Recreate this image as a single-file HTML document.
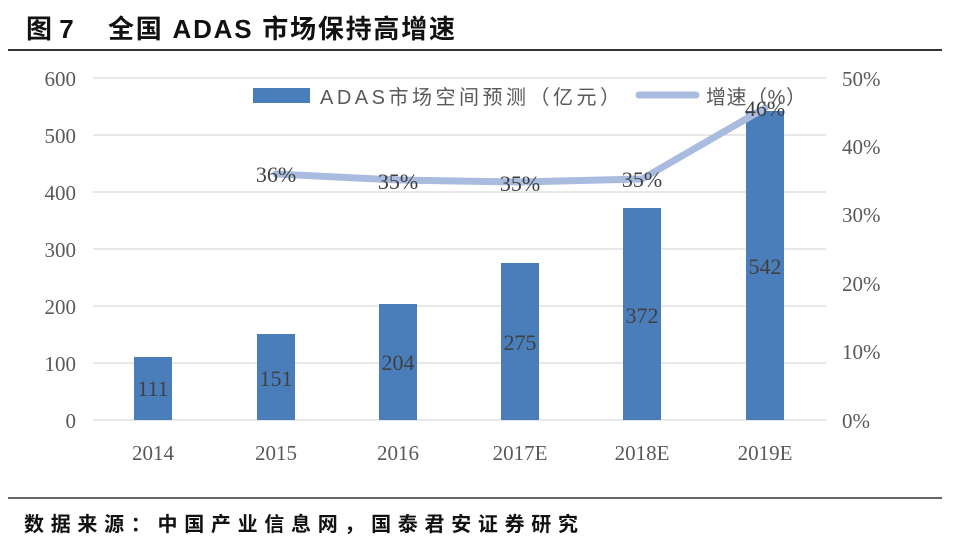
<!DOCTYPE html>
<html><head><meta charset="utf-8"><style>
html,body{margin:0;padding:0;background:#fff;}
</style></head><body>
<svg width="960" height="542" xmlns="http://www.w3.org/2000/svg" style="display:block">
<text x="26" y="38" font-family="'Liberation Sans','Noto Sans CJK SC',sans-serif" font-weight="bold" font-size="26" fill="#111">图 7</text>
<text x="108" y="38" font-family="'Liberation Sans','Noto Sans CJK SC',sans-serif" font-weight="bold" font-size="26" fill="#111" textLength="347" lengthAdjust="spacing">全国 ADAS 市场保持高增速</text>
<line x1="8" y1="50" x2="942" y2="50" stroke="#333" stroke-width="2"/>
<g stroke="#d9d9d9" stroke-width="1.2">
<line x1="93" y1="78" x2="826" y2="78"/><line x1="93" y1="135" x2="826" y2="135"/>
<line x1="93" y1="192" x2="826" y2="192"/><line x1="93" y1="249" x2="826" y2="249"/>
<line x1="93" y1="306" x2="826" y2="306"/><line x1="93" y1="363" x2="826" y2="363"/>
<line x1="93" y1="420" x2="826" y2="420"/></g>
<g font-family="'Liberation Serif',serif" font-size="21" fill="#595959" text-anchor="end">
<text x="76" y="86">600</text><text x="76" y="143">500</text><text x="76" y="200">400</text>
<text x="76" y="257">300</text><text x="76" y="314">200</text><text x="76" y="371">100</text><text x="76" y="428">0</text></g>
<g font-family="'Liberation Serif',serif" font-size="21" fill="#595959">
<text x="842" y="86">50%</text><text x="842" y="154">40%</text><text x="842" y="222">30%</text>
<text x="842" y="291">20%</text><text x="842" y="359">10%</text><text x="842" y="428">0%</text></g>
<g fill="#4a7ebb">
<rect x="134" y="357" width="38" height="63"/><rect x="257" y="334" width="38" height="86"/>
<rect x="379" y="304" width="38" height="116"/><rect x="501" y="263" width="38" height="157"/>
<rect x="623" y="208" width="38" height="212"/><rect x="746" y="111" width="38" height="309"/></g>
<g font-family="'Liberation Serif',serif" font-size="22" fill="#404040" text-anchor="middle">
<text x="153" y="396">111</text><text x="276" y="386">151</text><text x="398" y="370">204</text>
<text x="520" y="350">275</text><text x="642" y="323">372</text><text x="765" y="274">542</text></g>
<polyline points="276,174 398,180 520,182 642,179 765,108" fill="none" stroke="#a9bbdf" stroke-width="7" stroke-linejoin="round" stroke-linecap="round"/>
<g font-family="'Liberation Serif',serif" font-size="22" fill="#404040" text-anchor="middle">
<text x="276" y="182">36%</text><text x="398" y="189">35%</text><text x="520" y="191">35%</text>
<text x="642" y="187">35%</text><text x="765" y="116">46%</text></g>
<rect x="253" y="88" width="57" height="15" fill="#4a7ebb"/>
<text x="320" y="104" font-family="'Liberation Sans','Noto Sans CJK SC',sans-serif" font-size="20" fill="#595959" textLength="300" lengthAdjust="spacing">ADAS市场空间预测（亿元）</text>
<line x1="639" y1="95" x2="696" y2="95" stroke="#a9bbdf" stroke-width="7" stroke-linecap="round"/>
<text x="706" y="104" font-family="'Liberation Sans','Noto Sans CJK SC',sans-serif" font-size="20" fill="#595959" textLength="100" lengthAdjust="spacing">增速（%）</text>
<g font-family="'Liberation Serif',serif" font-size="21" fill="#595959" text-anchor="middle">
<text x="153" y="460">2014</text><text x="276" y="460">2015</text><text x="398" y="460">2016</text>
<text x="520" y="460">2017E</text><text x="642" y="460">2018E</text><text x="765" y="460">2019E</text></g>
<line x1="8" y1="498" x2="942" y2="498" stroke="#333" stroke-width="1.5"/>
<text x="24" y="531" font-family="'Liberation Sans','Noto Sans CJK SC',sans-serif" font-weight="bold" font-size="20" fill="#111" textLength="554" lengthAdjust="spacing">数据来源：中国产业信息网，国泰君安证券研究</text>
</svg>
</body></html>
